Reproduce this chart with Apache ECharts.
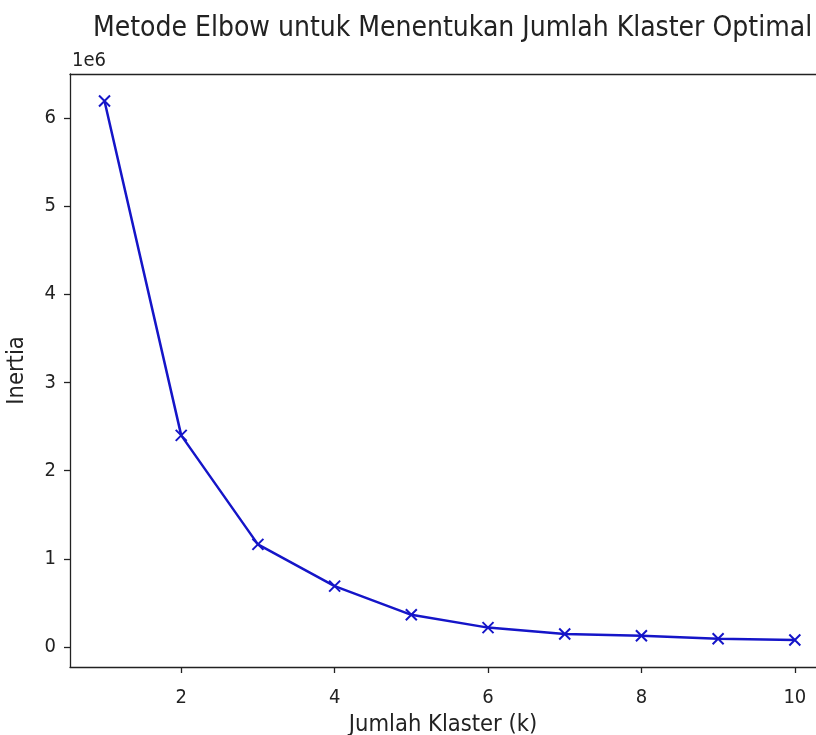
<!DOCTYPE html>
<html>
<head>
<meta charset="utf-8">
<script src="https://cdn.jsdelivr.net/npm/echarts@6/dist/echarts.min.js"></script>
<style>
html,body{margin:0;padding:0;background:#fff;}
#chart{width:816px;height:735px;}
</style>
</head>
<body>
<div id="chart"></div>
<script>
const titleText = "Metode Elbow untuk Menentukan Jumlah Klaster Optimal";
const xLabel = "Jumlah Klaster (k)";
const yLabel = "Inertia";
const kValues = [1, 2, 3, 4, 5, 6, 7, 8, 9, 10];
const inertia = [6190000, 2400000, 1164000, 690000, 365000, 220000, 147000, 128000, 94000, 79000];
const xTicks = [2, 4, 6, 8, 10];
const yTicks = [0, 1000000, 2000000, 3000000, 4000000, 5000000, 6000000];

const FONT = '"DejaVu Sans Condensed", "DejaVu Sans", sans-serif';
const TXT = '#222';
const AX = '#222';

const chart = echarts.init(document.getElementById('chart'), null, {renderer: 'canvas'});
chart.setOption({
  animation: false,
  backgroundColor: '#fff',
  title: {
    text: titleText,
    left: 88, top: 10,
    textStyle: {fontFamily: FONT, fontSize: 28, fontWeight: 'normal', color: TXT}
  },
  graphic: [{
    type: 'text', left: 72, top: 51,
    style: {text: '1e6', fontFamily: FONT, fontSize: 20, fill: TXT}
  }],
  grid: {
    left: 70, top: 74, right: 0, bottom: 68,
    show: false, containLabel: false, outerBoundsMode: 'none'
  },
  xAxis: [{
    type: 'value', min: 0.55, max: 10.276,
    name: xLabel, nameLocation: 'middle', nameGap: 42,
    nameTextStyle: {fontFamily: FONT, fontSize: 23.5, color: TXT},
    splitLine: {show: false},
    axisLine: {show: true, onZero: false, lineStyle: {color: AX, width: 1.3}},
    axisTick: {show: true, length: 6, customValues: xTicks, lineStyle: {color: AX, width: 1.3}},
    axisLabel: {customValues: xTicks, margin: 21, fontFamily: FONT, fontSize: 20, color: TXT}
  }, {
    type: 'value', min: 0.55, max: 10.276, position: 'top',
    splitLine: {show: false},
    axisLine: {show: true, onZero: false, lineStyle: {color: AX, width: 1.3}},
    axisTick: {show: false},
    axisLabel: {show: false}
  }],
  yAxis: {
    type: 'value', min: -226500, max: 6497000,
    name: yLabel, nameLocation: 'middle', nameGap: 41, nameRotate: 90,
    nameTextStyle: {fontFamily: FONT, fontSize: 23.5, color: TXT},
    splitLine: {show: false},
    axisLine: {show: true, onZero: false, lineStyle: {color: AX, width: 1.3}},
    axisTick: {show: true, length: 6, customValues: yTicks, lineStyle: {color: AX, width: 1.3}},
    axisLabel: {customValues: yTicks, margin: 14, fontFamily: FONT, fontSize: 20, color: TXT,
      formatter: v => String(Math.round(v / 1e6))}
  },
  series: [{
    type: 'line',
    xAxisIndex: 0,
    data: kValues.map((k, i) => [k, inertia[i]]),
    lineStyle: {color: '#1515c8', width: 2.5},
    symbol: 'path://M0,0L10,10M10,0L0,10',
    symbolSize: 11,
    showSymbol: true,
    itemStyle: {color: 'none', borderColor: '#1515c8', borderWidth: 2}
  }]
});
</script>
</body>
</html>
